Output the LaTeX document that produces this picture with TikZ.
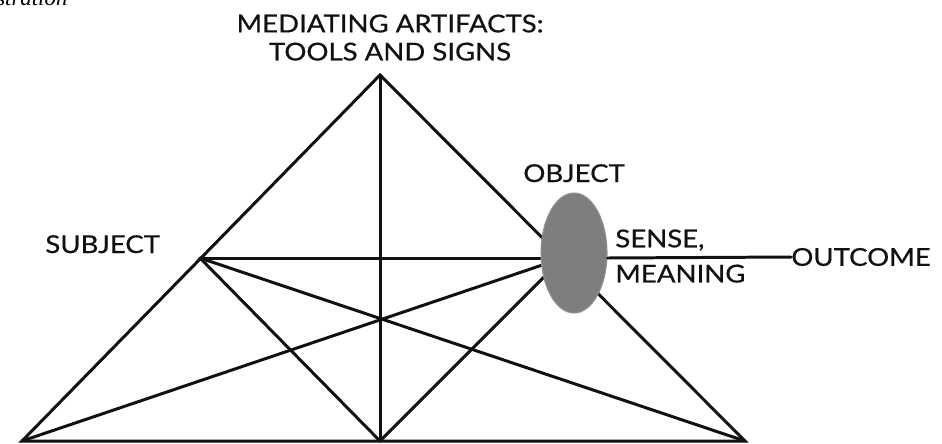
\documentclass[tikz,border=0pt]{standalone}
\usepackage{fontspec}
\setmainfont{Lato}[FakeStretch=1.12, FakeBold=0.6]
\newfontfamily\notefont{Liberation Serif}
\usetikzlibrary{positioning,shapes.geometric}
\definecolor{inkline}{HTML}{111111}
\definecolor{blobgrey}{HTML}{7E7E7E}
\tikzset{
  edgeline/.style={
    draw=inkline,
    line width=1.7pt,
    line cap=round
  },
  caplabel/.style={
    text=inkline,
    inner sep=0pt,
    font=\fontsize{14}{16}\selectfont
  }
}
\begin{document}
\begin{tikzpicture}[
  x=0.02cm, y=-0.02cm,
  objectblob/.style={
    ellipse,
    fill=blobgrey,
    draw=blobgrey!85!white,
    line width=0.6pt,
    minimum width=1.32cm,
    minimum height=2.4cm,
    inner sep=0pt
  },
  twolines/.style={
    caplabel,
    align=center,
    font=\fontsize{14}{16}\selectfont
  },
  twolinesleft/.style={
    caplabel,
    align=left,
    font=\fontsize{14}{20}\selectfont
  },
  cutnote/.style={
    inner sep=0pt,
    font=\fontsize{13}{15}\selectfont\notefont\itshape
  }
]
  \useasboundingbox (0,0) rectangle (942,443);

  % corners of the triangle
  \coordinate (apex) at (380,75);
  \coordinate (subj) at (200,258);
  \coordinate (obj) at (563,258);
  \coordinate (botleft) at (22,441);
  \coordinate (botmid) at (380,441);
  \coordinate (botright) at (745,441);

  \node[cutnote, anchor=base west] (cut) at (-4,5) {stration};

  \draw[edgeline] (apex) -- (botleft) -- (botright) -- cycle;
  \draw[edgeline] (apex) -- (botmid);
  \draw[edgeline] (subj) -- (obj);
  \draw[edgeline] (subj) -- (botmid);
  \draw[edgeline] (subj) -- (botright);
  \draw[edgeline] (obj) -- (botleft);
  \draw[edgeline] (obj) -- (botmid);

  \node[objectblob] (blob) at (574,253) {};

  \node[twolines, anchor=south] (artifacts) at (390,61) {MEDIATING ARTIFACTS:\\TOOLS AND SIGNS};
  \node[caplabel, anchor=base west] (subject) at (45,253) {SUBJECT};
  \node[caplabel, anchor=base west] (object) at (523,182) {OBJECT};
  \node[twolinesleft, anchor=south west] (sense) at (615,283) {SENSE,\\MEANING};
  \node[caplabel, anchor=west] (outcome) at (791,257) {OUTCOME};

  \draw[edgeline] (blob.east |- obj) -- (outcome.west);
\end{tikzpicture}
\end{document}
